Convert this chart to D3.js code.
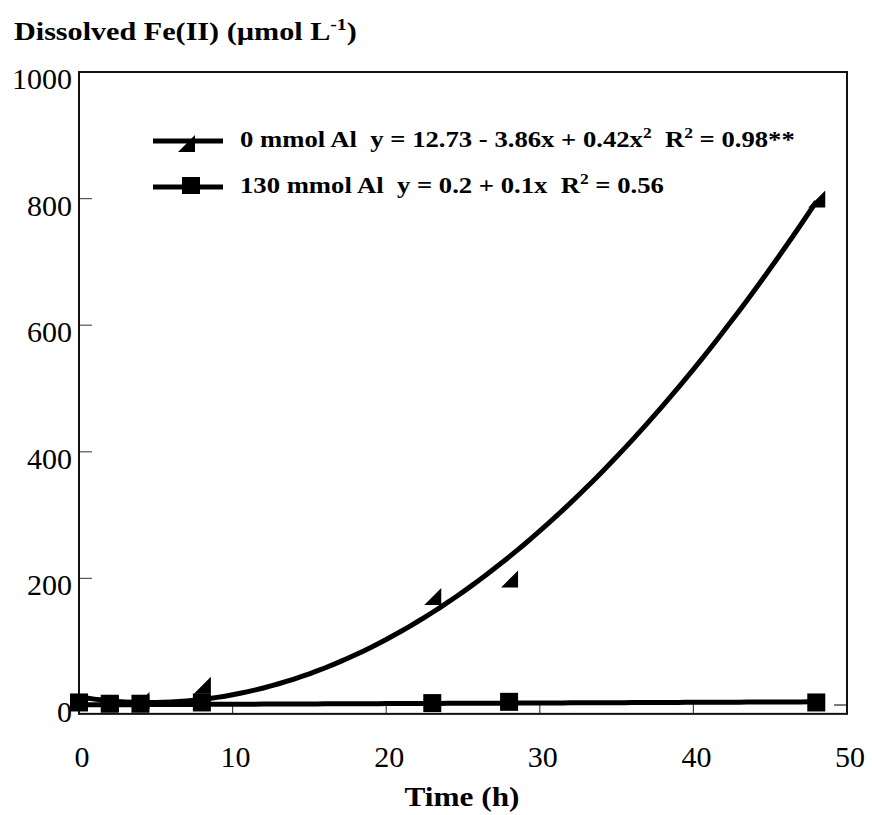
<!DOCTYPE html>
<html>
<head>
<meta charset="utf-8">
<script src="https://cdn.jsdelivr.net/npm/d3@7"></script>
<style>
  body { margin: 0; background: #fff; }
  text { font-family: "Liberation Serif", "Times New Roman", serif; fill: #000; }
  .bold { font-weight: bold; }
</style>
</head>
<body>
<div id="graph"></div>
<script>
// sampling times (h)
var times = [0, 2, 4, 8, 23, 28, 48];
// dissolved Fe(II), umol/L
var fe_0al = [5, 3, 8, 32, 172, 200, 800];
var fe_130al = [4, 2, 2, 4, 3, 5, 4];
// fitted equations from the legend (intercept, x, x^2)
var fit_0al = [12.73, -3.86, 0.42];
var fit_130al = [0.2, 0.1, 0];
var xTicks = [0, 10, 20, 30, 40, 50];
var yTicks = [0, 200, 400, 600, 800, 1000];

const width = 872, height = 815;
const stretch = 1.16; // bold text in the original is drawn wide

var svg = d3.select('#graph')
    .append('svg')
    .attr('width', width)
    .attr('height', height);

var xScale = d3.scaleLinear().domain([0, 50]).range([79, 847]);
var yScale = d3.scaleLinear().domain([0, 1000]).range([705, 72]);
var yBottom = yScale(-14);

// tick marks (inside, grey)
svg.append('g').selectAll('line')
    .data(yTicks)
    .enter()
    .append('line')
    .attr('x1', xScale(0))
    .attr('x2', xScale(0) + 13)
    .attr('y1', d => yScale(d))
    .attr('y2', d => yScale(d))
    .attr('stroke', '#555')
    .attr('stroke-width', 1.2);

svg.append('line')
    .attr('x1', xScale(50) - 13)
    .attr('x2', xScale(50))
    .attr('y1', yScale(0))
    .attr('y2', yScale(0))
    .attr('stroke', '#222')
    .attr('stroke-width', 1.2);

svg.append('g').selectAll('line')
    .data(xTicks)
    .enter()
    .append('line')
    .attr('x1', d => xScale(d))
    .attr('x2', d => xScale(d))
    .attr('y1', yBottom)
    .attr('y2', yBottom - 11)
    .attr('stroke', '#444')
    .attr('stroke-width', 1.2);

// frame
svg.append('rect')
    .attr('x', xScale(0))
    .attr('y', yScale(1000))
    .attr('width', xScale(50) - xScale(0))
    .attr('height', yBottom - yScale(1000))
    .attr('fill', 'none')
    .attr('stroke', '#111')
    .attr('stroke-width', 2);

// tick labels
svg.append('g').selectAll('text')
    .data(yTicks)
    .enter()
    .append('text')
    .attr('x', 72)
    .attr('y', d => yScale(d) + 17)
    .attr('text-anchor', 'end')
    .style('font-size', '30px')
    .text(d => d);

svg.append('g').selectAll('text')
    .data(xTicks)
    .enter()
    .append('text')
    .attr('x', d => xScale(d) + 3)
    .attr('y', 767)
    .attr('text-anchor', 'middle')
    .style('font-size', '30px')
    .text(d => d);

// axis titles
var ytitle = svg.append('text')
    .attr('class', 'bold')
    .attr('transform', 'translate(14,40) scale(' + stretch + ',1)')
    .style('font-size', '26px');
ytitle.append('tspan').text('Dissolved Fe(II) (\u00b5mol L');
ytitle.append('tspan').attr('dy', -10).style('font-size', '17px').text('-1');
ytitle.append('tspan').attr('dy', 10).text(')');

svg.append('text')
    .attr('class', 'bold')
    .attr('transform', 'translate(462,806) scale(' + stretch + ',1)')
    .attr('text-anchor', 'middle')
    .style('font-size', '27px')
    .text('Time (h)');

// fitted curves
function poly(c, x) { return c[0] + c[1] * x + c[2] * x * x; }
var xs = d3.range(0, 48.01, 0.5);
var line = d3.line()
    .x(d => xScale(d[0]))
    .y(d => yScale(d[1]));

svg.append('path')
    .datum(xs.map(x => [x, poly(fit_0al, x)]))
    .attr('d', line)
    .attr('fill', 'none')
    .attr('stroke', '#000')
    .attr('stroke-width', 5);

svg.append('path')
    .datum(xs.map(x => [x, poly(fit_130al, x)]))
    .attr('d', line)
    .attr('fill', 'none')
    .attr('stroke', '#000')
    .attr('stroke-width', 5);

// markers
function triPath(cx, cy) {
    return 'M' + (cx - 8) + ',' + (cy + 9) + 'L' + (cx + 9) + ',' + (cy + 9) + 'L' + (cx + 9) + ',' + (cy - 8) + 'Z';
}
svg.append('g').selectAll('rect')
    .data(times.map((t, i) => [t, fe_130al[i]]))
    .enter()
    .append('rect')
    .attr('x', d => xScale(d[0]) - 9)
    .attr('y', d => yScale(d[1]) - 9)
    .attr('width', 18)
    .attr('height', 18)
    .attr('fill', '#000');

svg.append('g').selectAll('path')
    .data(times.map((t, i) => [t, fe_0al[i]]))
    .enter()
    .append('path')
    .attr('d', d => triPath(xScale(d[0]), yScale(d[1])))
    .attr('fill', '#000');

// legend
var legend = svg.append('g');
legend.append('line')
    .attr('x1', 153).attr('x2', 223)
    .attr('y1', 141).attr('y2', 141)
    .attr('stroke', '#000').attr('stroke-width', 5);
legend.append('path')
    .attr('d', triPath(186, 143))
    .attr('fill', '#000');
legend.append('line')
    .attr('x1', 153).attr('x2', 223)
    .attr('y1', 187).attr('y2', 187)
    .attr('stroke', '#000').attr('stroke-width', 5);
legend.append('rect')
    .attr('x', 182).attr('y', 177)
    .attr('width', 18).attr('height', 17)
    .attr('fill', '#000');

var l1 = legend.append('text')
    .attr('class', 'bold')
    .attr('transform', 'translate(240,147) scale(' + stretch + ',1)')
    .style('font-size', '23px')
    .attr('xml:space', 'preserve');
l1.append('tspan').text('0 mmol Al  y = 12.73 - 3.86x + 0.42x');
l1.append('tspan').attr('dy', -9).style('font-size', '15px').text('2');
l1.append('tspan').attr('dy', 9).text('  R');
l1.append('tspan').attr('dy', -9).style('font-size', '15px').text('2');
l1.append('tspan').attr('dy', 9).text(' = 0.98**');

var l2 = legend.append('text')
    .attr('class', 'bold')
    .attr('transform', 'translate(240,193) scale(' + stretch + ',1)')
    .style('font-size', '23px')
    .attr('xml:space', 'preserve');
l2.append('tspan').text('130 mmol Al  y = 0.2 + 0.1x  R');
l2.append('tspan').attr('dy', -9).style('font-size', '15px').text('2');
l2.append('tspan').attr('dy', 9).text(' = 0.56');
</script>
</body>
</html>
